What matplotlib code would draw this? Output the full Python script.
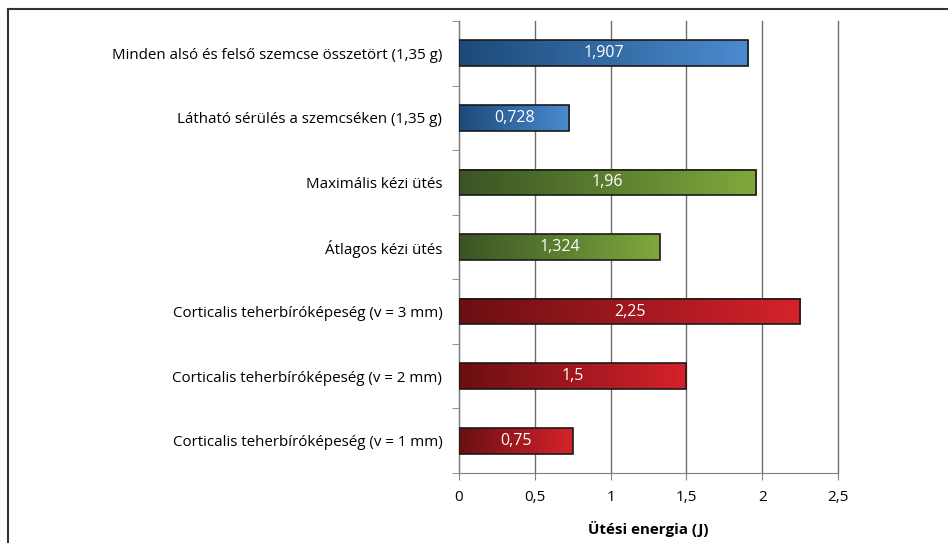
import numpy as np
import matplotlib.pyplot as plt
from matplotlib.colors import LinearSegmentedColormap
from matplotlib.patches import Rectangle
from matplotlib.lines import Line2D

plt.rcParams['font.family'] = ['Open Sans', 'DejaVu Sans']

# data (top to bottom)
labels = [
    'Minden alsó és felső szemcse összetört (1,35 g)',
    'Látható sérülés a szemcséken (1,35 g)',
    'Maximális kézi ütés',
    'Átlagos kézi ütés',
    'Corticalis teherbíróképeség (v = 3 mm)',
    'Corticalis teherbíróképeség (v = 2 mm)',
    'Corticalis teherbíróképeség (v = 1 mm)',
]
values = [1.907, 0.728, 1.96, 1.324, 2.25, 1.5, 0.75]
value_text = ['1,907', '0,728', '1,96', '1,324', '2,25', '1,5', '0,75']
groups = ['blue', 'blue', 'green', 'green', 'red', 'red', 'red']
xticks = [0, 0.5, 1, 1.5, 2, 2.5]
xtick_labels = ['0', '0,5', '1', '1,5', '2', '2,5']

gradients = {
    'blue': ('#1c4a78', '#4c8bd0'),
    'green': ('#3a5424', '#7fa93c'),
    'red': ('#6a0f12', '#d6222b'),
}

fig = plt.figure(figsize=(9.48, 5.43), dpi=100)
ax = fig.add_axes([0.4842, 0.1289, 0.3998, 0.8324])

n = len(values)
ypos = np.arange(n)[::-1]
bar_h = 0.4
grad = np.linspace(0, 1, 256).reshape(1, -1)

for y, v, txt, g in zip(ypos, values, value_text, groups):
    cmap = LinearSegmentedColormap.from_list(g, gradients[g])
    ax.imshow(grad, cmap=cmap, aspect='auto', zorder=3,
              extent=[0, v, y - bar_h / 2, y + bar_h / 2])
    ax.add_patch(Rectangle((0, y - bar_h / 2), v, bar_h, fill=False,
                           edgecolor='#1a1a1a', linewidth=1.2, zorder=4))
    ax.text(v / 2, y, txt, color='white', ha='center', va='center',
            fontsize=11.5, zorder=5)

ax.set_xlim(0, 2.5)
ax.set_ylim(-0.5, n - 0.5)
ax.set_xticks(xticks)
ax.set_xticklabels(xtick_labels, fontsize=11)
ax.set_yticks(ypos)
ax.set_yticklabels(labels, fontsize=10.9)
ax.set_yticks(np.arange(-0.5, n, 1.0), minor=True)
ax.tick_params(axis='y', which='major', length=0, pad=12)
ax.tick_params(axis='y', which='minor', length=5, color='#808080')
ax.tick_params(axis='x', length=5, color='#808080', pad=7)

ax.grid(axis='x', color='#6e6e6e', linewidth=1.0, zorder=0)
for gl in ax.get_xgridlines():
    gl.set_clip_on(False)
ax.set_axisbelow(True)
for s in ['top', 'right']:
    ax.spines[s].set_visible(False)
for s in ['left', 'bottom']:
    ax.spines[s].set_color('#808080')

ax.set_xlabel('Ütési energia (J)', fontsize=10.9, fontweight='bold', labelpad=12)

# outer frame (left and top edges only visible)
fig.add_artist(Line2D([8 / 948, 8 / 948], [0, 1 - 9 / 543], transform=fig.transFigure,
                      color='#333333', linewidth=1.5))
fig.add_artist(Line2D([8 / 948, 1], [1 - 9 / 543, 1 - 9 / 543], transform=fig.transFigure,
                      color='#333333', linewidth=1.5))

fig.savefig('out.png', dpi=100)
